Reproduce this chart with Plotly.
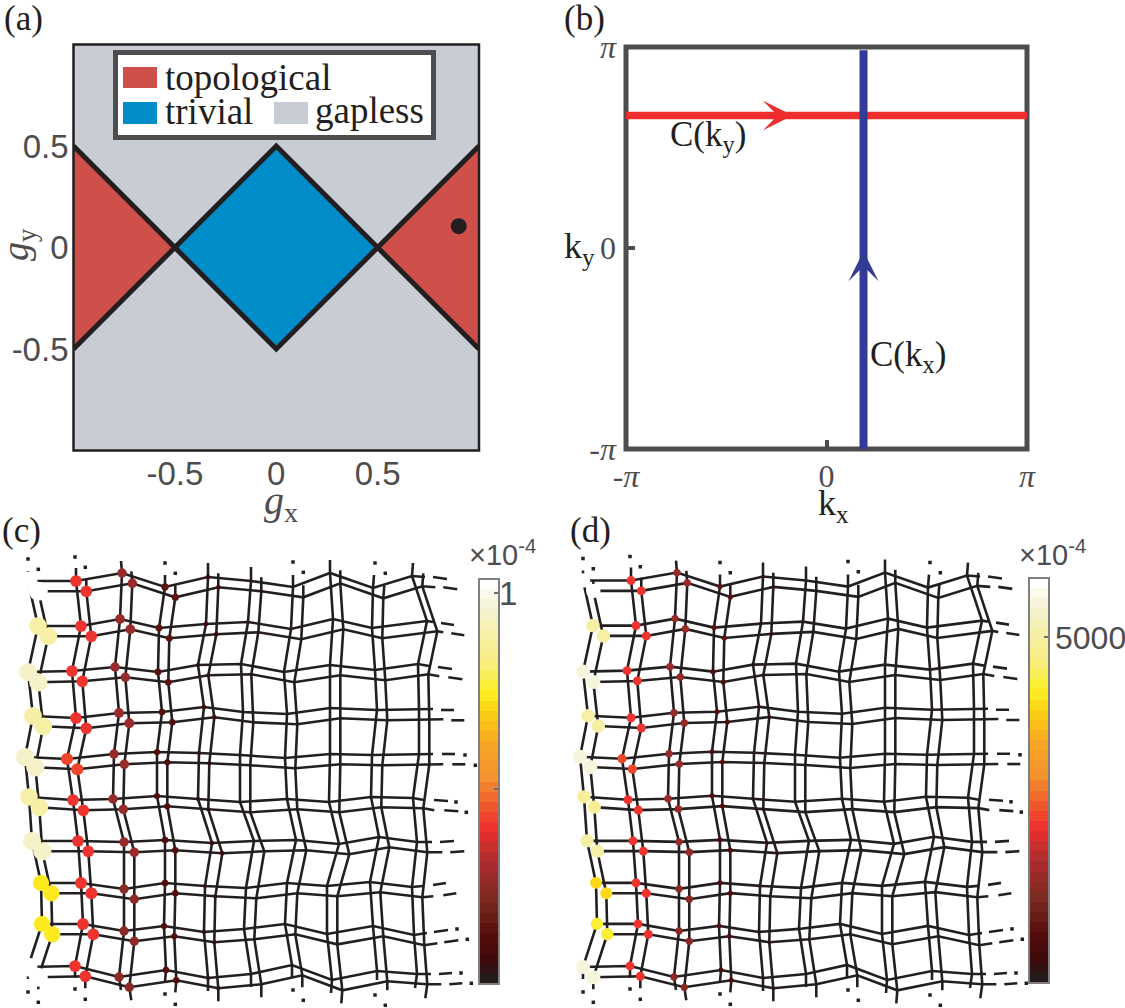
import math
import plotly.graph_objects as go
from plotly.colors import sample_colorscale

W, H = 1125, 1008
SERIF = "Liberation Serif"
SANS = "Liberation Sans"
INK = "#231f20"
GREY = "#4d4d4f"

# ---------- panel (a) phase diagram ----------
gap_x = [-1, 1, 1, -1, -1]
gap_y = [-1, -1, 1, 1, -1]
topo_left_x = [-1, -0.5, -1, -1]
topo_left_y = [-0.5, 0, 0.5, -0.5]
topo_right_x = [1, 0.5, 1, 1]
topo_right_y = [-0.5, 0, 0.5, -0.5]
triv_x = [-0.5, 0, 0.5, 0, -0.5]
triv_y = [0, 0.5, 0, -0.5, 0]
bound1_x = [-1, 0, 1]
bound1_y = [0.5, -0.5, 0.5]
bound2_x = [-1, 0, 1]
bound2_y = [-0.5, 0.5, -0.5]
point_x = [0.9]
point_y = [0.105]
g_ticks = [-0.5, 0, 0.5]
g_labels = ["-0.5", "0", "0.5"]

# ---------- panel (b) loops ----------
PI = math.pi
ky_loop_x = [-PI, PI]
ky_loop_y = [2.07, 2.07]
kx_loop_x = [0.58, 0.58]
kx_loop_y = [-PI - 0.02, 3.09]
k_ticks = [-PI, 0, PI]
k_labels = ["-<i>π</i>", "0", "<i>π</i>"]

# ---------- panels (c), (d) lattice: sublattice A nodes, column by column, row 0..9 ----------
node_x = [
    [28, 38, 28, 33, 25, 29, 32, 41, 42, 28],
    [76, 81, 72, 76, 67, 73, 78, 81, 83, 75],
    [122, 120, 115, 119, 114, 113, 124, 124, 124, 119],
    [165, 159, 158, 162, 157, 157, 165, 165, 164, 166],
    [208, 206, 198, 204, 199, 198, 212, 205, 204, 208],
    [251, 248, 241, 243, 240, 240, 254, 246, 244, 251],
    [293, 291, 284, 287, 285, 287, 296, 287, 285, 292],
    [330, 333, 330, 330, 330, 329, 339, 327, 327, 332],
    [373, 372, 375, 377, 372, 371, 379, 370, 373, 377],
    [412, 427, 418, 419, 419, 413, 417, 412, 414, 417],
]
node_y = [
    [581, 626, 672, 716, 757, 797, 841, 883, 924, 967],
    [581, 626, 671, 718, 759, 800, 841, 883, 924, 966],
    [573, 619, 667, 713, 754, 799, 842, 889, 931, 977],
    [587, 628, 672, 712, 752, 796, 840, 883, 926, 970],
    [577, 624, 665, 707, 753, 799, 843, 886, 932, 978],
    [581, 622, 664, 712, 755, 802, 841, 888, 929, 974],
    [587, 629, 672, 714, 758, 799, 840, 883, 924, 965],
    [573, 619, 665, 708, 754, 802, 844, 886, 934, 980],
    [588, 628, 670, 710, 755, 797, 837, 882, 926, 971],
    [576, 621, 664, 709, 754, 798, 842, 887, 935, 974],
]
# boundary stubs: tips above / below each column, right of each row
top_tip_x = [28, 76, 121, 165, 208, 251, 293, 330, 374, 413]
top_tip_y = [571, 568, 561, 575, 563, 567, 575, 560, 575, 563]
bot_tip_x = [28, 75, 121, 165, 208, 251, 292, 331, 377, 415]
bot_tip_y = [979, 978, 990, 982, 991, 987, 977, 993, 980, 988]
top_dot_x = [28, 75, 165, 293, 375]
top_dot_y = [559, 557, 563, 562, 563]
bot_dot_x = [28, 75, 165, 293, 375]
bot_dot_y = [992, 989, 994, 990, 995]
right_tip_x = [425, 433, 429, 433, 433, 424, 432, 423, 427, 431]
right_tip_y = [577, 622, 666, 709, 754, 800, 842, 886, 933, 974]
dash_x0 = [433, 441, 438, 441, 442, 434, 440, 433, 434, 439]
dash_y0 = [577, 623, 667, 710, 754, 800, 842, 885, 932, 974]
dash_x1 = [447, 454, 452, 454, 455, 448, 454, 446, 448, 452]
dash_y1 = [579, 625, 669, 710, 754, 801, 841, 883, 930, 973]
right_dot_x = [465, 456, 457, 461]
right_dot_y = [755, 802, 929, 973]

# probability on each node (column by column, row 0..9), in colour-bar units
c_values = [
    [1.03, 0.90, 0.95, 0.90, 0.95, 0.89, 0.95, 0.75, 0.75, 1.03],
    [0.39, 0.39, 0.39, 0.39, 0.42, 0.39, 0.39, 0.41, 0.40, 0.39],
    [0.26, 0.27, 0.26, 0.28, 0.26, 0.26, 0.26, 0.25, 0.25, 0.25],
    [0.15, 0.13, 0.13, 0.12, 0.11, 0.11, 0.12, 0.12, 0.11, 0.12],
    [0.06, 0.06, 0.05, 0.06, 0.05, 0.05, 0.06, 0.05, 0.05, 0.05],
    [0.03, 0.03, 0.02, 0.02, 0.02, 0.02, 0.02, 0.02, 0.02, 0.02],
    [0.01, 0.01, 0.01, 0.01, 0.01, 0.01, 0.005, 0.005, 0.005, 0.01],
    [0.0] * 10,
    [0.0] * 10,
    [0.0] * 10,
]
d_values = [
    [5850, 5090, 5560, 5090, 5560, 4920, 4980, 3980, 4270, 5560],
    [2200, 2250, 2200, 2250, 2400, 2250, 2200, 2300, 2250, 2200],
    [1500, 1520, 1500, 1500, 1500, 1550, 1500, 1450, 1450, 1450],
    [760, 760, 720, 700, 650, 680, 700, 700, 650, 680],
    [300, 300, 280, 300, 280, 280, 300, 280, 280, 280],
    [120, 120, 110, 110, 100, 110, 100, 100, 100, 100],
    [60, 60, 50, 50, 50, 50, 40, 40, 40, 50],
    [0] * 10,
    [0] * 10,
    [0] * 10,
]
c_max, d_max = 1.036, 5854
c_ticks, c_ticklabels = [0.5, 1], ["", ""]
d_ticks, d_ticklabels = [5000], [""]

heat_stops = [
    [0.0, "#231a1a"], [0.05, "#3f0a0a"], [0.10, "#520b0b"], [0.20, "#7a2a20"],
    [0.28, "#a52a2e"], [0.33, "#c4302c"], [0.375, "#ee2d2e"], [0.44, "#ee5a2b"],
    [0.51, "#f3912f"], [0.60, "#f7a823"], [0.66, "#fbc615"], [0.726, "#fdee20"],
    [0.80, "#f8ee80"], [0.87, "#f6efa5"], [0.94, "#f5f3d5"], [1.0, "#ffffff"],
]
HEAT_LEVELS = 40
band_colors = sample_colorscale(heat_stops, [i / (HEAT_LEVELS - 1) for i in range(HEAT_LEVELS)])
heat = []
for i, colour in enumerate(band_colors):
    heat += [[i / HEAT_LEVELS, colour], [(i + 1) / HEAT_LEVELS, colour]]

LAYER_SHIFT = 10.3


def px(x):
    return x / W


def py(y):
    return 1 - y / H


def lattice_lines(shift):
    xs, ys = [], []

    def seg(xa, ya):
        xs.extend(xa + [None])
        ys.extend(ya + [None])

    n_col, n_row = len(node_x), len(node_x[0])
    for c in range(n_col):
        seg([top_tip_x[c]] + node_x[c] + [bot_tip_x[c]], [top_tip_y[c]] + node_y[c] + [bot_tip_y[c]])
    for r in range(n_row):
        seg([node_x[c][r] for c in range(n_col)] + [right_tip_x[r]],
            [node_y[c][r] for c in range(n_col)] + [right_tip_y[r]])
        seg([dash_x0[r], dash_x1[r]], [dash_y0[r], dash_y1[r]])
    return [v + shift if v is not None else None for v in xs], [v + shift if v is not None else None for v in ys]


def flat(rows):
    return [v for col in rows for v in col]


fig = go.Figure()

# panel (a)
for xs, ys, col, name in [
    (gap_x, gap_y, "#c8ccd3", "gapless"),
    (topo_left_x, topo_left_y, "#cf4f4b", "topological"),
    (topo_right_x, topo_right_y, "#cf4f4b", "topological"),
    (triv_x, triv_y, "#008dca", "trivial"),
]:
    fig.add_trace(go.Scatter(x=xs, y=ys, mode="lines", fill="toself", fillcolor=col,
                             line=dict(width=0), name=name, xaxis="x", yaxis="y"))
for xs, ys in [(bound1_x, bound1_y), (bound2_x, bound2_y)]:
    fig.add_trace(go.Scatter(x=xs, y=ys, mode="lines", line=dict(color=INK, width=5),
                             xaxis="x", yaxis="y"))
fig.add_trace(go.Scatter(x=point_x, y=point_y, mode="markers",
                         marker=dict(color=INK, size=16), xaxis="x", yaxis="y"))

# panel (b)
fig.add_trace(go.Scatter(x=ky_loop_x, y=ky_loop_y, mode="lines", line=dict(color="#ee2d2e", width=7.5),
                         xaxis="x2", yaxis="y2"))
fig.add_trace(go.Scatter(x=kx_loop_x, y=kx_loop_y, mode="lines", line=dict(color="#323b96", width=8),
                         xaxis="x2", yaxis="y2"))

# panels (c), (d)
for xa, ya, vals, k, cax in [("x3", "y3", c_values, 19.0 / math.sqrt(1.03), "coloraxis"),
                             ("x4", "y4", d_values, 14.5 / math.sqrt(5850), "coloraxis2")]:
    for shift in (0, LAYER_SHIFT):
        lx, ly = lattice_lines(shift)
        fig.add_trace(go.Scatter(x=lx, y=ly, mode="lines", line=dict(color=INK, width=2.6),
                                 xaxis=xa, yaxis=ya, connectgaps=False))
        fig.add_trace(go.Scatter(
            x=[v + shift for v in top_dot_x + bot_dot_x + right_dot_x],
            y=[v + shift for v in top_dot_y + bot_dot_y + right_dot_y],
            mode="markers", marker=dict(color=INK, size=3.5, symbol="square"), xaxis=xa, yaxis=ya))
    for shift in (0, LAYER_SHIFT):
        v = flat(vals)
        fig.add_trace(go.Scatter(
            x=[p + shift for p in flat(node_x)],
            y=[p + shift for p in flat(node_y)],
            mode="markers",
            marker=dict(size=[k * math.sqrt(u) for u in v], color=v, coloraxis=cax, line=dict(width=0), opacity=1),
            xaxis=xa, yaxis=ya))

hidden = dict(visible=False, showgrid=False, zeroline=False)
layout = dict(
    width=W, height=H, margin=dict(l=0, r=0, t=0, b=0, autoexpand=False), showlegend=False,
    paper_bgcolor="white", plot_bgcolor="rgba(0,0,0,0)", hovermode=False,
    xaxis=dict(domain=[px(73.5), px(479)], range=[-1, 1], tickvals=g_ticks, ticktext=g_labels, showgrid=False,
               zeroline=False, ticks="", tickfont=dict(family=SANS, size=33, color=GREY), anchor="y"),
    yaxis=dict(domain=[py(450.5), py(44.5)], range=[-1, 1], tickvals=g_ticks, ticktext=g_labels, showgrid=False,
               zeroline=False, ticks="", tickfont=dict(family=SANS, size=33, color=GREY), anchor="x",
               ticklabelstandoff=4),
    xaxis2=dict(domain=[px(626), px(1027)], range=[-PI, PI], tickvals=k_ticks, ticktext=k_labels, showgrid=False,
                zeroline=False, ticks="inside", ticklen=9, tickwidth=4, tickcolor=GREY,
                tickfont=dict(family=SERIF, size=32, color=GREY), anchor="y2", ticklabelstandoff=5),
    yaxis2=dict(domain=[py(449), py(47)], range=[-PI, PI], tickvals=k_ticks, ticktext=k_labels, showgrid=False,
                zeroline=False, ticks="inside", ticklen=9, tickwidth=4, tickcolor=GREY,
                tickfont=dict(family=SERIF, size=32, color=GREY), anchor="x2", ticklabelstandoff=9),
    xaxis3=dict(domain=[0, px(478)], range=[0, 478], anchor="y3", **hidden),
    yaxis3=dict(domain=[0, py(515)], range=[1008, 515], anchor="x3", **hidden),
    xaxis4=dict(domain=[px(555), px(1028)], range=[0, 473], anchor="y4", **hidden),
    yaxis4=dict(domain=[0, py(514.5)], range=[1008, 515], anchor="x4", **hidden),
)


def bar(cmax, x_px, top_px, bottom_px, ticks, labels):
    return dict(
        cmin=0, cmax=cmax, colorscale=heat,
        colorbar=dict(
            x=px(x_px), xanchor="left", xpad=0, ypad=0, y=py(top_px), yanchor="top",
            len=bottom_px - top_px, lenmode="pixels", thickness=20, thicknessmode="pixels",
            outlinecolor="#7f7f7f", outlinewidth=2, tickmode="array", tickvals=ticks, ticktext=labels,
            ticks="inside", ticklen=6, tickwidth=2, tickcolor="#6d6d6d",
            tickfont=dict(family=SANS, size=32, color=GREY),
        ),
    )


layout["coloraxis"] = bar(c_max, 479, 579, 984, c_ticks, c_ticklabels)
layout["coloraxis2"] = bar(d_max, 1029, 578, 983, d_ticks, d_ticklabels)
fig.update_layout(**layout)

# frames and legend box
shapes = [
    dict(type="rect", xref="paper", yref="paper", x0=px(73.5), x1=px(479), y0=py(450.5), y1=py(44.5),
         line=dict(color=INK, width=2.5), layer="above"),
    dict(type="rect", xref="paper", yref="paper", x0=px(626), x1=px(1027), y0=py(449), y1=py(47),
         line=dict(color=GREY, width=5), layer="below"),
]
for x0, y0, x1, y1, fc, lc, lw in [
    (115.5, 52.5, 433.5, 137.5, "white", GREY, 5),
    (123, 67, 157, 88, "#cf4f4b", None, 0),
    (123, 102, 157, 124, "#008dca", None, 0),
    (274, 102, 308, 124, "#c8ccd3", None, 0),
]:
    shapes.append(dict(type="rect", xref="paper", yref="paper", x0=px(x0), x1=px(x1), y0=py(y1), y1=py(y0),
                       fillcolor=fc, line=dict(color=lc, width=lw) if lw else dict(width=0), layer="above"))
fig.update_layout(shapes=shapes)


def note(text, x, y, size, color=INK, family=SERIF, anchor="center", angle=0):
    fig.add_annotation(text=text, x=px(x), y=py(y), xref="paper", yref="paper", showarrow=False, xanchor=anchor,
                       yanchor="middle", textangle=angle, font=dict(family=family, size=size, color=color))


note("(a)", 23, 18, 35)
note("(b)", 584, 18, 35)
note("(c)", 21, 530, 35)
note("(d)", 590, 530, 35)
note("topological", 163, 78, 37, anchor="left")
note("trivial", 163, 111, 37, anchor="left")
note("gapless", 313, 110, 37, anchor="left")
note("<i>g</i><sub>x</sub>", 281, 503, 40, color=GREY)
note("<i>g</i><sub>y</sub>", 18, 245, 38, color=GREY, angle=-90)
note("k<sub>x</sub>", 833, 505, 36)
note("k<sub>y</sub>", 579, 248, 36)
note("C(k<sub>y</sub>)", 708, 137, 35)
note("C(k<sub>x</sub>)", 908, 356, 35)
note("×10<sup>-4</sup>", 502, 553, 29, color=GREY, family=SANS)
note("×10<sup>-4</sup>", 1052, 553, 29, color=GREY, family=SANS)
note("1", 508, 593, 33, color=GREY, family=SANS)
note("5000", 1053, 638, 32, color=GREY, family=SANS, anchor="left")

# arrow heads on the loops
for tip, base, col in [((-0.53, 2.07), (-0.9, 2.07), "#ee2d2e"), ((0.58, -0.05), (0.58, -0.5), "#323b96")]:
    fig.add_annotation(x=tip[0], y=tip[1], ax=base[0], ay=base[1], xref="x2", yref="y2", axref="x2", ayref="y2",
                       text="", showarrow=True, arrowhead=3, arrowsize=5, arrowwidth=1, arrowcolor=col, standoff=0)

fig.write_html("out.html", config=dict(displayModeBar=False),
               post_script="document.body.style.margin='0';document.body.style.overflow='hidden';")
